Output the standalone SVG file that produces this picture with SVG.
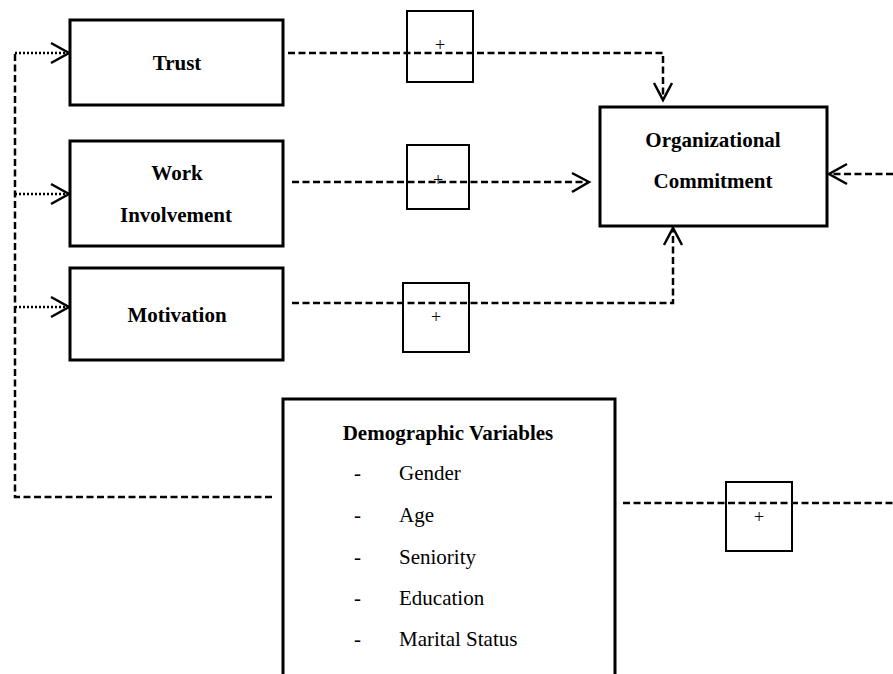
<svg xmlns="http://www.w3.org/2000/svg" width="893" height="674" viewBox="0 0 893 674">
<style>
.node{fill:#fff;stroke:#000;stroke-width:3}
.pbox{fill:none;stroke:#000;stroke-width:2}
.dash{fill:none;stroke:#000;stroke-width:2.5;stroke-dasharray:7 3.5}
.dot{fill:none;stroke:#000;stroke-width:2.5;stroke-dasharray:2 2}
.head{fill:none;stroke:#000;stroke-width:2.5}
.lbl{font-family:"Liberation Serif","Times New Roman",serif;font-weight:bold;font-size:21px;text-anchor:middle;fill:#000}
.item{font-family:"Liberation Serif","Times New Roman",serif;font-size:21px;fill:#000}
.plus{font-family:"Liberation Serif","Times New Roman",serif;font-size:18px;text-anchor:middle;fill:#000}
</style>
<rect width="893" height="674" fill="#fff"/>
<g id="connectors">
<path class="dash" d="M272 497 H15 V53"/>
<path class="dot" d="M15 53 H68"/>
<path class="dot" d="M15 194 H68"/>
<path class="dot" d="M15 307 H68"/>
<path class="head" d="M51 43 L69 53 L51 63"/>
<path class="head" d="M51 184 L69 194 L51 204"/>
<path class="head" d="M51 297 L69 307 L51 317"/>
<path class="dash" d="M288 53 H663 V99"/>
<path class="head" d="M654 83 L663 100 L672 83"/>
<path class="dash" d="M292 182 H588"/>
<path class="head" d="M572 173 L589 182 L572 192"/>
<path class="dash" d="M292 303 H673 V229"/>
<path class="head" d="M664 245 L673 228 L682 245"/>
<path class="dash" d="M893 174 H830"/>
<path class="head" d="M847 164 L829 174 L847 184"/>
<path class="dash" d="M623 503 H893"/>
</g>
<g id="plus1"><rect class="pbox" x="407" y="11" width="66" height="71"/><text class="plus" x="440" y="51">+</text></g>
<g id="plus2"><rect class="pbox" x="407" y="145" width="62" height="64"/><text class="plus" x="438" y="186">+</text></g>
<g id="plus3"><rect class="pbox" x="403" y="283" width="66" height="69"/><text class="plus" x="436" y="323">+</text></g>
<g id="plus4"><rect class="pbox" x="726" y="482" width="66" height="69"/><text class="plus" x="759" y="523">+</text></g>
<g id="trust"><rect class="node" x="70" y="20" width="213" height="85"/><text class="lbl" x="177" y="70">Trust</text></g>
<g id="work"><rect class="node" x="70" y="141" width="213" height="105"/><text class="lbl" x="177" y="180">Work</text><text class="lbl" x="176" y="222">Involvement</text></g>
<g id="motivation"><rect class="node" x="70" y="268" width="213" height="92"/><text class="lbl" x="177" y="322">Motivation</text></g>
<g id="commitment"><rect class="node" x="600" y="107" width="227" height="119"/><text class="lbl" x="713" y="147">Organizational</text><text class="lbl" x="713" y="188">Commitment</text></g>
<g id="demographics"><rect class="node" x="283" y="399" width="332" height="290"/>
<text class="lbl" x="448" y="440">Demographic Variables</text>
<text class="item" x="354" y="480">-</text><text class="item" x="399" y="480">Gender</text>
<text class="item" x="354" y="522">-</text><text class="item" x="399" y="522">Age</text>
<text class="item" x="354" y="564">-</text><text class="item" x="399" y="564">Seniority</text>
<text class="item" x="354" y="605">-</text><text class="item" x="399" y="605">Education</text>
<text class="item" x="354" y="646">-</text><text class="item" x="399" y="646">Marital Status</text>
</g>
</svg>
